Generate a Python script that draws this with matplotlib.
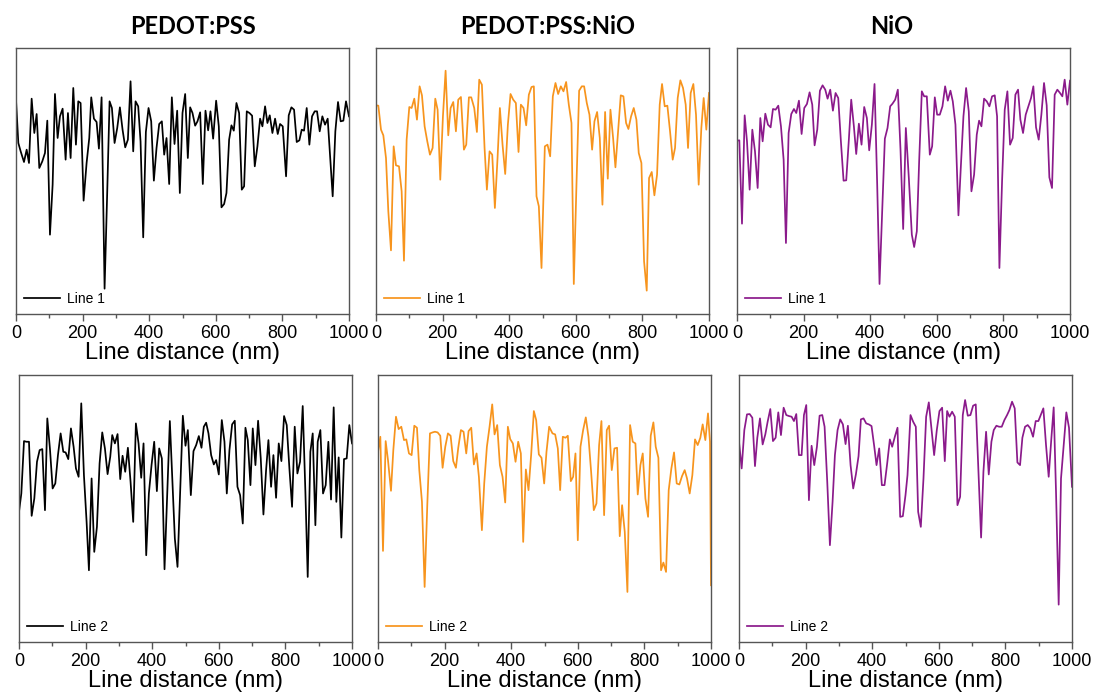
import matplotlib.pyplot as plt
import numpy as np
from matplotlib.ticker import MultipleLocator

plt.rcParams['font.family'] = ['Liberation Sans', 'DejaVu Sans']

# line profiles: [distance (nm), height (a.u.)]
pss_line1 = np.array([
    [0, 63.5], [7, 50.5], [14, 48.0], [24, 44.8], [32, 48.5], [39, 44.5], [47, 63.8], [55, 53.5],
    [62, 59.2], [70, 43.0], [79, 45.0], [87, 47.5], [94, 57.2], [102, 23.0], [110, 38.0], [117, 65.2],
    [125, 52.0], [132, 58.5], [140, 60.8], [149, 45.5], [156, 59.5], [164, 46.0], [172, 67.0], [180, 50.0],
    [187, 63.0], [194, 62.5], [203, 33.2], [212, 44.5], [220, 52.0], [226, 64.2], [234, 57.8], [242, 56.8],
    [249, 48.8], [257, 64.2], [266, 6.8], [274, 36.0], [281, 63.0], [288, 61.0], [296, 50.5], [304, 55.0],
    [312, 61.2], [320, 54.5], [328, 49.2], [336, 51.5], [344, 69.0], [352, 48.0], [359, 63.0], [367, 61.5],
    [374, 51.0], [382, 22.2], [390, 53.8], [398, 61.0], [406, 57.0], [414, 39.2], [422, 49.0], [430, 56.2],
    [438, 57.0], [445, 47.0], [452, 52.0], [460, 38.2], [468, 64.2], [476, 50.2], [484, 60.2], [492, 35.5],
    [500, 59.5], [508, 65.2], [516, 46.0], [523, 61.2], [530, 59.5], [538, 55.7], [545, 57.0], [553, 59.7],
    [561, 38.2], [569, 60.2], [577, 54.3], [584, 60.0], [592, 51.8], [601, 63.2], [609, 55.5], [617, 31.2],
    [625, 32.2], [632, 35.5], [640, 51.5], [647, 55.8], [654, 54.2], [662, 62.5], [670, 59.5], [678, 36.5],
    [685, 37.5], [693, 60.0], [701, 59.5], [709, 58.7], [717, 43.5], [725, 49.5], [733, 57.8], [740, 55.5],
    [748, 61.5], [755, 56.5], [762, 58.8], [770, 53.5], [778, 57.8], [786, 53.2], [793, 56.2], [801, 55.5],
    [811, 40.5], [819, 58.8], [827, 61.2], [835, 60.5], [843, 50.8], [851, 51.3], [858, 54.5], [865, 54.2],
    [873, 61.0], [881, 50.0], [889, 58.5], [897, 60.0], [904, 60.0], [912, 54.0], [920, 58.5], [928, 56.0],
    [936, 57.8], [951, 34.5], [959, 54.0], [967, 62.8], [975, 57.0], [983, 57.2], [991, 63.0], [1000, 58.5]])

pss_line2 = np.array([
    [0, 39.0], [7, 44.5], [15, 60.2], [22, 60.0], [30, 60.0], [38, 37.8], [46, 43.0], [54, 54.0],
    [62, 57.5], [70, 57.8], [78, 39.5], [85, 67.0], [93, 57.8], [101, 46.0], [109, 47.5], [117, 56.0],
    [125, 62.5], [133, 57.0], [140, 56.8], [148, 54.8], [156, 64.0], [164, 58.5], [171, 52.0], [179, 49.5],
    [187, 71.5], [195, 50.0], [203, 36.0], [210, 21.5], [218, 49.0], [226, 27.0], [234, 34.5], [242, 53.5],
    [250, 62.8], [258, 58.0], [266, 50.3], [274, 55.5], [280, 62.0], [288, 59.5], [296, 62.3], [304, 48.8],
    [311, 55.8], [319, 51.0], [327, 58.2], [335, 48.0], [343, 36.0], [351, 65.5], [359, 59.5], [367, 49.2],
    [374, 59.5], [382, 26.0], [390, 44.5], [398, 53.0], [406, 60.0], [414, 45.2], [421, 58.0], [429, 55.0],
    [437, 21.8], [445, 44.0], [453, 66.2], [461, 47.0], [468, 31.0], [476, 22.5], [484, 45.0], [492, 67.8],
    [500, 58.8], [507, 63.5], [516, 44.0], [524, 57.2], [532, 59.0], [540, 61.7], [548, 58.2], [555, 64.5],
    [562, 65.7], [569, 62.5], [577, 56.0], [585, 53.2], [592, 54.5], [600, 50.2], [609, 66.5], [617, 60.0],
    [624, 44.5], [632, 57.5], [640, 65.2], [648, 66.3], [656, 46.5], [664, 44.0], [672, 35.5], [680, 64.2],
    [687, 60.5], [695, 47.0], [702, 64.0], [710, 53.0], [718, 66.3], [726, 55.0], [734, 38.2], [742, 51.5],
    [749, 60.5], [757, 46.5], [764, 56.0], [772, 43.2], [780, 59.5], [788, 54.2], [796, 67.7], [804, 65.0],
    [812, 52.0], [820, 40.5], [828, 64.5], [836, 50.5], [844, 54.0], [852, 70.7], [860, 45.0], [867, 19.5],
    [875, 57.0], [882, 62.5], [890, 35.0], [897, 60.0], [905, 63.5], [913, 44.5], [921, 47.0], [929, 60.0],
    [937, 42.7], [945, 70.3], [953, 42.0], [960, 55.3], [968, 31.3], [976, 54.8], [984, 55.0], [992, 65.0],
    [1000, 59.5]])

mix_line1 = np.array([
    [0, 61.8], [7, 61.7], [15, 54.5], [22, 52.8], [30, 46.0], [37, 30.0], [45, 18.3], [53, 49.5],
    [60, 43.8], [69, 43.5], [77, 36.0], [84, 15.2], [92, 51.5], [100, 61.3], [107, 61.0], [115, 63.8],
    [123, 57.5], [131, 67.5], [138, 64.8], [146, 55.5], [154, 51.0], [162, 47.0], [170, 49.0], [178, 63.8],
    [185, 60.5], [193, 39.5], [201, 58.5], [209, 72.2], [217, 52.8], [224, 61.0], [232, 62.8], [240, 54.0],
    [247, 63.5], [255, 64.3], [264, 48.5], [271, 50.0], [279, 64.2], [286, 64.2], [295, 61.0], [303, 53.8],
    [310, 69.5], [318, 68.0], [326, 49.0], [333, 36.5], [341, 48.0], [349, 47.0], [357, 31.0], [365, 46.0],
    [372, 61.0], [380, 50.0], [388, 41.2], [396, 56.0], [404, 65.2], [412, 63.5], [420, 62.5], [428, 47.8],
    [435, 62.0], [443, 61.0], [451, 55.8], [459, 65.0], [467, 67.3], [474, 67.5], [482, 34.5], [489, 31.5],
    [497, 13.0], [507, 49.5], [515, 50.0], [523, 46.5], [531, 64.5], [539, 68.5], [547, 65.2], [555, 67.5],
    [563, 66.0], [571, 68.8], [579, 62.0], [587, 56.5], [594, 8.2], [602, 38.0], [610, 66.2], [618, 67.5],
    [625, 67.5], [633, 62.5], [641, 59.0], [649, 48.5], [656, 57.0], [664, 59.8], [672, 52.0], [680, 32.0],
    [688, 59.8], [696, 39.8], [704, 60.5], [712, 52.0], [719, 43.2], [727, 54.2], [735, 64.8], [743, 64.5],
    [751, 56.5], [758, 54.7], [766, 58.5], [774, 61.0], [782, 57.5], [789, 47.5], [797, 44.5], [805, 15.0],
    [813, 6.2], [820, 40.0], [828, 41.8], [836, 34.8], [844, 41.0], [852, 62.0], [859, 68.2], [867, 61.5],
    [875, 61.7], [883, 54.0], [891, 45.5], [898, 49.0], [906, 64.0], [914, 69.3], [922, 67.0], [930, 62.0],
    [937, 49.0], [945, 65.5], [953, 68.2], [961, 59.0], [969, 38.0], [977, 55.0], [984, 64.0], [992, 54.5],
    [1000, 65.5]])

mix_line2 = np.array([
    [0, 57.0], [7, 61.5], [15, 27.3], [23, 60.2], [30, 54.5], [39, 45.3], [46, 57.5], [54, 67.5],
    [62, 63.8], [70, 64.5], [78, 60.5], [85, 60.7], [93, 56.5], [101, 56.0], [109, 64.8], [117, 64.2],
    [124, 51.5], [132, 42.0], [140, 16.5], [148, 41.0], [156, 62.5], [164, 62.8], [171, 63.0], [179, 62.8],
    [187, 61.8], [194, 52.2], [202, 58.5], [210, 62.5], [218, 61.8], [226, 54.2], [234, 52.2], [241, 58.2],
    [249, 63.5], [257, 63.0], [265, 56.5], [272, 63.2], [280, 64.2], [288, 53.2], [296, 56.5], [303, 49.5],
    [312, 33.5], [319, 47.5], [327, 58.5], [335, 64.5], [343, 71.2], [350, 62.2], [358, 65.0], [366, 53.0],
    [374, 49.5], [382, 41.8], [390, 64.5], [397, 60.8], [405, 59.5], [413, 54.0], [421, 60.0], [429, 56.5],
    [436, 30.0], [444, 51.7], [452, 45.5], [460, 56.2], [468, 69.2], [475, 66.5], [483, 56.2], [491, 55.2],
    [499, 47.5], [506, 57.0], [514, 64.5], [524, 62.5], [532, 62.2], [540, 58.0], [547, 45.5], [555, 61.5],
    [563, 61.2], [570, 61.8], [579, 48.2], [586, 49.5], [593, 56.5], [600, 30.5], [608, 58.5], [616, 63.5],
    [624, 67.3], [632, 61.5], [640, 51.0], [648, 39.5], [656, 41.5], [664, 59.0], [671, 66.2], [679, 38.0],
    [687, 63.5], [694, 64.8], [702, 51.5], [710, 58.0], [718, 58.2], [726, 31.7], [733, 41.0], [741, 33.0],
    [749, 15.0], [757, 65.0], [765, 60.0], [773, 59.5], [780, 44.2], [788, 53.0], [795, 56.5], [803, 43.0],
    [811, 37.5], [819, 61.8], [827, 65.8], [834, 58.5], [842, 55.2], [850, 21.5], [857, 23.8], [865, 21.0],
    [873, 45.5], [881, 52.0], [889, 56.8], [897, 47.5], [905, 47.2], [913, 49.7], [921, 51.5], [928, 49.0],
    [936, 44.5], [944, 50.0], [952, 60.7], [960, 59.0], [968, 61.2], [975, 65.2], [983, 60.5], [991, 68.5],
    [997, 60.0], [1000, 17.0]])

nio_line1 = np.array([
    [0, 51.2], [7, 51.3], [15, 26.3], [23, 58.8], [30, 51.0], [38, 36.5], [46, 54.5], [54, 48.0],
    [62, 37.0], [70, 58.0], [77, 51.0], [85, 59.3], [93, 56.0], [101, 55.2], [108, 60.7], [116, 60.5],
    [124, 61.7], [132, 55.5], [140, 45.5], [147, 20.5], [155, 53.5], [163, 59.2], [171, 60.7], [178, 59.5],
    [186, 63.2], [194, 53.2], [202, 61.0], [210, 62.2], [218, 65.7], [226, 62.0], [233, 49.8], [241, 54.5],
    [249, 66.2], [257, 67.8], [265, 66.5], [272, 63.8], [280, 66.5], [288, 60.2], [296, 65.5], [304, 64.0],
    [312, 51.0], [320, 39.2], [328, 39.3], [336, 51.7], [343, 63.5], [351, 55.5], [358, 47.2], [366, 56.3],
    [374, 50.0], [382, 61.3], [390, 58.0], [397, 48.3], [405, 56.0], [413, 68.2], [421, 38.0], [428, 8.2],
    [436, 30.0], [444, 51.8], [452, 55.0], [460, 61.5], [467, 62.3], [475, 63.5], [483, 66.5], [491, 48.5],
    [499, 24.7], [507, 55.0], [516, 40.0], [525, 23.0], [532, 19.3], [540, 24.0], [547, 45.0], [555, 66.0],
    [562, 64.5], [570, 64.5], [579, 47.0], [586, 49.5], [594, 64.2], [601, 59.0], [609, 59.0], [617, 61.5],
    [625, 67.5], [633, 63.2], [641, 66.2], [648, 63.0], [656, 56.0], [665, 28.8], [672, 43.0], [680, 58.5],
    [688, 67.0], [696, 60.0], [704, 36.0], [712, 41.0], [720, 53.0], [727, 57.2], [734, 55.5], [742, 63.8],
    [750, 63.0], [758, 61.5], [766, 64.5], [774, 64.8], [781, 58.5], [788, 13.0], [796, 39.0], [804, 60.5],
    [812, 66.0], [820, 50.0], [828, 52.0], [836, 65.0], [844, 66.5], [851, 57.5], [859, 53.5], [867, 59.0],
    [875, 61.5], [883, 64.0], [890, 67.5], [898, 55.2], [906, 51.5], [914, 59.0], [922, 68.5], [930, 61.8],
    [938, 40.2], [946, 37.0], [954, 65.0], [962, 66.5], [970, 65.5], [977, 64.5], [984, 69.5], [992, 62.0],
    [1000, 69.2]])

nio_line2 = np.array([
    [0, 60.0], [8, 52.0], [16, 63.5], [24, 68.2], [32, 68.3], [40, 67.2], [48, 52.7], [55, 61.2],
    [63, 67.0], [71, 59.2], [79, 62.2], [86, 66.0], [94, 69.8], [102, 60.2], [110, 61.2], [118, 68.8],
    [126, 62.0], [134, 70.2], [142, 68.0], [150, 67.7], [158, 67.5], [165, 66.2], [172, 68.3], [180, 56.0],
    [188, 56.0], [195, 68.0], [202, 71.0], [210, 42.5], [218, 58.8], [226, 53.0], [234, 58.5], [242, 67.8],
    [250, 68.0], [257, 64.5], [265, 48.0], [273, 29.0], [281, 42.0], [288, 56.0], [296, 63.5], [304, 66.7],
    [312, 65.2], [320, 59.3], [327, 64.8], [335, 53.0], [343, 46.0], [351, 50.2], [359, 55.7], [366, 66.7],
    [374, 67.0], [382, 65.5], [390, 65.2], [398, 64.7], [406, 58.7], [413, 53.0], [421, 58.0], [429, 47.0],
    [437, 47.0], [445, 53.5], [453, 60.7], [460, 58.5], [468, 61.5], [476, 64.2], [484, 37.5], [492, 37.7],
    [500, 44.0], [506, 50.0], [515, 68.0], [523, 66.0], [531, 64.5], [538, 39.0], [546, 34.5], [554, 49.0],
    [562, 67.5], [570, 71.8], [578, 64.0], [586, 56.0], [594, 63.5], [602, 69.2], [610, 70.2], [618, 54.2],
    [625, 69.2], [632, 67.5], [640, 69.0], [648, 67.5], [656, 41.0], [664, 43.5], [672, 68.0], [679, 72.5],
    [687, 67.8], [695, 68.0], [703, 70.8], [711, 71.2], [719, 51.0], [727, 31.3], [734, 51.0], [742, 63.0],
    [750, 50.2], [758, 60.0], [765, 63.5], [773, 64.8], [781, 64.5], [789, 64.5], [797, 66.5], [805, 68.0],
    [812, 69.5], [820, 72.0], [828, 70.0], [836, 53.8], [844, 53.0], [851, 61.2], [859, 64.5], [867, 65.0],
    [875, 64.0], [883, 61.5], [891, 66.2], [899, 66.2], [906, 68.0], [914, 70.0], [922, 59.0], [930, 49.5],
    [938, 61.0], [945, 70.3], [952, 45.0], [960, 11.2], [967, 49.0], [975, 59.0], [983, 68.8], [991, 64.2],
    [1000, 46.5]])

titles = ['PEDOT:PSS', 'PEDOT:PSS:NiO', 'NiO']
colors = ['#000000', '#F7941D', '#8B1A8B']
rows = [[pss_line1, mix_line1, nio_line1], [pss_line2, mix_line2, nio_line2]]
labels = ['Line 1', 'Line 2']

W, H = 1093, 693
fig = plt.figure(figsize=(W / 100, H / 100), dpi=100)

# panel boxes in pixels: left, top, right, bottom
boxes = [[(16, 48, 349, 314), (376, 48, 709, 314), (737, 48, 1070, 314)],
         [(19, 375, 352, 642), (378, 375, 711, 642), (739, 375, 1072, 642)]]
ylims = [(-0.8, 79), (0, 80)]

for r in range(2):
    for c in range(3):
        x0, y0, x1, y1 = boxes[r][c]
        ax = fig.add_axes([x0 / W, 1 - y1 / H, (x1 - x0) / W, (y1 - y0) / H])
        d = rows[r][c]
        ax.plot(d[:, 0], d[:, 1], color=colors[c], lw=1.25, label=labels[r])
        ax.set_xlim(0, 1000)
        ax.set_ylim(*ylims[r])
        ax.set_yticks([])
        ax.xaxis.set_major_locator(MultipleLocator(200))
        ax.xaxis.set_minor_locator(MultipleLocator(100))
        ax.tick_params(axis='x', which='major', direction='out', length=5, width=1,
                       color='#555555', labelsize=13, pad=3)
        ax.tick_params(axis='x', which='minor', direction='out', length=3, width=1, color='#555555')
        for s in ax.spines.values():
            s.set_color('#555555')
            s.set_linewidth(1.0)
        ax.set_xlabel('Line distance (nm)', fontsize=17, labelpad=0)
        ax.legend(loc='lower left', frameon=False, fontsize=10, handlelength=2.6,
                  handletextpad=0.5, borderaxespad=0.2)

title_x = [193, 548, 892]
for c in range(3):
    fig.text(title_x[c] / W, 1 - 26 / H, titles[c], ha='center', va='center',
             fontsize=17, fontweight='bold', family=['Lato', 'DejaVu Sans'])

fig.savefig('out.png', dpi=100)
